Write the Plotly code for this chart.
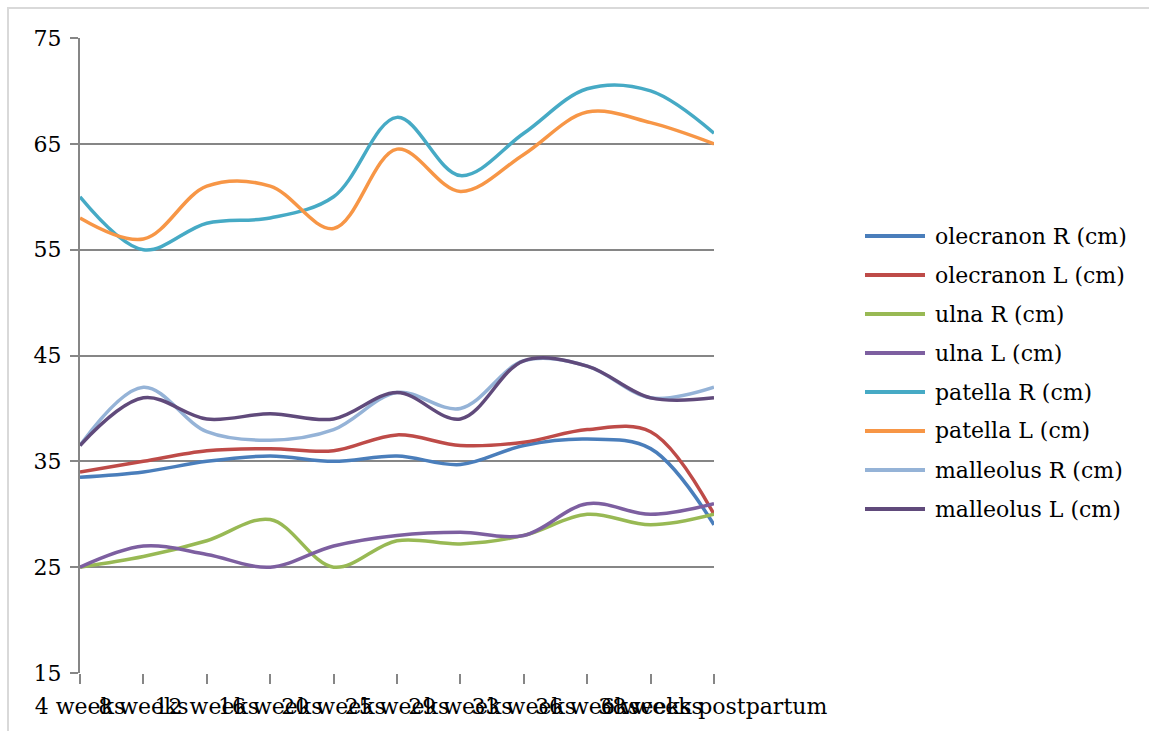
import plotly.graph_objects as go

# Measurement visits (categories)
visits = ["4 weeks", "8 weeks", "12 weeks", "16 weeks", "20 weeks", "25 weeks",
          "29 weeks", "33 weeks", "36 weeks", "38 weeks", "6 weeks postpartum"]

# Circumference measurements (cm)
olecranon_r = [33.5, 34.0, 35.0, 35.5, 35.0, 35.5, 34.7, 36.5, 37.1, 36.2, 29.0]
olecranon_l = [34.0, 35.0, 36.0, 36.2, 36.0, 37.5, 36.5, 36.8, 38.0, 37.8, 30.0]
ulna_r = [25.0, 26.0, 27.5, 29.5, 25.0, 27.5, 27.2, 28.0, 30.0, 29.0, 30.0]
ulna_l = [25.0, 27.0, 26.2, 25.0, 27.0, 28.0, 28.3, 28.0, 31.0, 30.0, 31.0]
patella_r = [60.0, 55.0, 57.5, 58.0, 60.0, 67.5, 62.0, 66.0, 70.2, 70.0, 66.0]
patella_l = [58.0, 56.0, 61.0, 61.0, 57.0, 64.5, 60.5, 64.0, 68.0, 67.0, 65.0]
malleolus_r = [36.5, 42.0, 37.8, 37.0, 38.0, 41.5, 40.0, 44.5, 44.0, 41.0, 42.0]
malleolus_l = [36.5, 41.0, 39.0, 39.5, 39.0, 41.5, 39.0, 44.5, 44.0, 41.0, 41.0]

series = [
    ("olecranon R (cm)", olecranon_r, "#4A7EBB"),
    ("olecranon L (cm)", olecranon_l, "#BE4B48"),
    ("ulna R (cm)", ulna_r, "#98B954"),
    ("ulna L (cm)", ulna_l, "#7D5FA0"),
    ("patella R (cm)", patella_r, "#46AAC5"),
    ("patella L (cm)", patella_l, "#F79646"),
    ("malleolus R (cm)", malleolus_r, "#95B3D7"),
    ("malleolus L (cm)", malleolus_l, "#604A7B"),
]

FONT = "DejaVu Serif"
FS = 22
x_idx = list(range(len(visits)))

W, H = 1149, 731
ml, mr, mt, mb = 80, W - 714, 38, H - 673
pw, ph = W - ml - mr, H - mt - mb


def px_x(p):
    return (p - ml) / pw


def px_y(p):
    return (H - mb - p) / ph


fig = go.Figure()
for name, vals, color in series:
    fig.add_trace(go.Scatter(
        x=x_idx, y=vals, name=name, mode="lines", showlegend=False,
        line=dict(color=color, width=3.5, shape="spline", smoothing=1.0),
    ))

# Legend on the right: long line swatch followed by the series name
shapes = [
    dict(type="rect", xref="paper", yref="paper", layer="below",
         x0=px_x(8), x1=px_x(W + 20), y0=px_y(H + 20), y1=px_y(8),
         line=dict(color="#D9D9D9", width=2), fillcolor="rgba(0,0,0,0)"),
]
annotations = []
row0, row_gap = 236, 39
for i, (name, _, color) in enumerate(series):
    yy = px_y(row0 + i * row_gap)
    shapes.append(dict(type="line", xref="paper", yref="paper",
                       x0=px_x(865), x1=px_x(925), y0=yy, y1=yy,
                       line=dict(color=color, width=4)))
    annotations.append(dict(xref="paper", yref="paper", x=px_x(933), y=yy,
                            xanchor="left", yanchor="middle", showarrow=False,
                            text=name, font=dict(family=FONT, size=FS, color="#000000")))

fig.update_layout(
    width=W, height=H,
    margin=dict(l=ml, r=mr, t=mt, b=mb, pad=0),
    paper_bgcolor="white", plot_bgcolor="white",
    font=dict(family=FONT, size=FS, color="#000000"),
    showlegend=False,
    xaxis=dict(
        range=[0, len(visits) - 1], tickmode="array", tickvals=x_idx, ticktext=visits,
        tickangle=0, showgrid=False, zeroline=False, showline=False,
        ticks="outside", ticklen=10, tickwidth=2, tickcolor="#868686",
        ticklabelstandoff=4,
        tickfont=dict(family=FONT, size=FS, color="#000000"),
    ),
    yaxis=dict(
        range=[15, 75], tick0=15, dtick=10, showgrid=True, gridcolor="#868686",
        gridwidth=2, zeroline=False, showline=True, linecolor="#868686", linewidth=2,
        ticks="outside", ticklen=8, tickwidth=2, tickcolor="#868686",
        ticklabelstandoff=4,
        tickfont=dict(family=FONT, size=FS, color="#000000"),
    ),
    shapes=shapes,
    annotations=annotations,
)

fig.write_html("out.html")
